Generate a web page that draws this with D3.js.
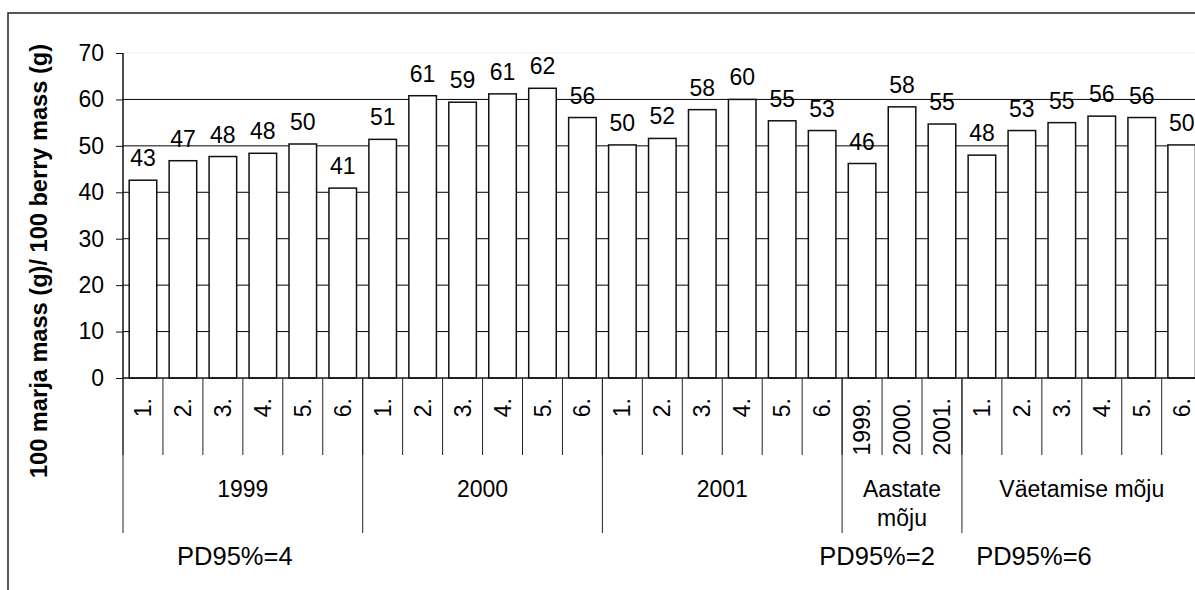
<!DOCTYPE html>
<html>
<head>
<meta charset="utf-8">
<script src="https://cdn.jsdelivr.net/npm/d3@7"></script>
<style>
  body { margin: 0; background: #fff; }
  svg { display: block; font-family: "Liberation Sans", Arial, sans-serif; }
</style>
</head>
<body>
<div id="chart"></div>
<script>
// data
var catLabels = ["1.", "2.", "3.", "4.", "5.", "6.",
                 "1.", "2.", "3.", "4.", "5.", "6.",
                 "1.", "2.", "3.", "4.", "5.", "6.",
                 "1999.", "2000.", "2001.",
                 "1.", "2.", "3.", "4.", "5.", "6."];
var values = [42.6, 46.8, 47.7, 48.4, 50.4, 40.9,
              51.4, 60.8, 59.4, 61.2, 62.4, 56.1,
              50.2, 51.6, 57.8, 60.0, 55.4, 53.3,
              46.2, 58.4, 54.7,
              48.0, 53.3, 55.0, 56.4, 56.1, 50.2];
var groupNames = [["1999"], ["2000"], ["2001"], ["Aastate", "mõju"], ["Väetamise mõju"]];
var groupSizes = [6, 6, 6, 3, 6];
var yTicks = [0, 10, 20, 30, 40, 50, 60, 70];
var pdLabels = ["PD95%=4", "PD95%=2", "PD95%=6"];
var yTitle = "100 marja mass (g)/ 100 berry mass (g)";

var W = 1195, H = 590;
var fs = 23;
var svg = d3.select('#chart').append('svg')
  .attr('width', W)
  .attr('height', H);

// outer chart border (runs off the right and bottom)
svg.append('rect')
  .attr('x', 8).attr('y', 13)
  .attr('width', 1300).attr('height', 700)
  .attr('fill', '#fff')
  .attr('style', 'stroke: #222; stroke-width: 1.5px');

var left = 123, step = 39.95;
var x = d3.scaleBand()
  .domain(d3.range(values.length))
  .range([left, left + step * values.length])
  .paddingInner(0.31)
  .paddingOuter(0.155);

var y = d3.scaleLinear().domain([0, 70]).range([378, 53]);

// gridlines
svg.append('g').selectAll('line')
  .data(yTicks.filter(function(d) { return d > 0; }))
  .enter().append('line')
  .attr('x1', left).attr('x2', W)
  .attr('y1', function(d) { return y(d); })
  .attr('y2', function(d) { return y(d); })
  .attr('style', function(d) {
    return d === 70 ? 'stroke: #eee; stroke-width: 1px' : 'stroke: #000; stroke-width: 1px';
  });

// bars
svg.append('g').selectAll('rect')
  .data(values).enter().append('rect')
  .attr('x', function(d, i) { return x(i); })
  .attr('y', function(d) { return y(d); })
  .attr('width', x.bandwidth())
  .attr('height', function(d) { return y(0) - y(d); })
  .attr('fill', '#fff')
  .attr('style', 'stroke: #111; stroke-width: 1.5px');

// value labels
svg.append('g').selectAll('text')
  .data(values).enter().append('text')
  .attr('x', function(d, i) { return x(i) + x.bandwidth() / 2; })
  .attr('y', function(d) { return y(d) - 14; })
  .attr('text-anchor', 'middle')
  .attr('font-size', fs)
  .text(function(d) { return d3.format('.0f')(d); });

// y axis
var yAxis = svg.append('g')
  .attr('transform', 'translate(' + left + ',0)')
  .call(d3.axisLeft(y).tickValues(yTicks).tickSize(7).tickPadding(12));
yAxis.select('.domain').attr('stroke', '#111').attr('stroke-width', 1.5)
  .attr('d', 'M0,' + y(70) + 'V' + y(0));
yAxis.selectAll('.tick line').attr('stroke', '#111');
yAxis.selectAll('.tick text').attr('font-size', fs).attr('fill', '#000')
  .attr('font-family', '"Liberation Sans", Arial, sans-serif');

svg.append('text')
  .attr('transform', 'translate(47,261) rotate(-90)')
  .attr('text-anchor', 'middle')
  .attr('font-size', 23.6)
  .attr('font-weight', 'bold')
  .text(yTitle);

// x axis line
svg.append('line')
  .attr('x1', left).attr('x2', W)
  .attr('y1', y(0)).attr('y2', y(0))
  .attr('style', 'stroke: #111; stroke-width: 1.5px');

// category ticks
var bounds = d3.range(values.length + 1).map(function(i) { return left + i * step; });
svg.append('g').selectAll('line')
  .data(bounds).enter().append('line')
  .attr('x1', function(d) { return d; })
  .attr('x2', function(d) { return d; })
  .attr('y1', y(0)).attr('y2', 455)
  .attr('style', 'stroke: #222; stroke-width: 1px');

// category labels, rotated
svg.append('g').selectAll('text')
  .data(catLabels).enter().append('text')
  .attr('transform', function(d, i) {
    return 'translate(' + (x(i) + x.bandwidth() / 2) + ',398) rotate(-90)';
  })
  .attr('text-anchor', 'end')
  .attr('dy', '0.35em')
  .attr('font-size', fs)
  .text(function(d) { return d; });

// group separators and names
var starts = [0];
groupSizes.forEach(function(n, i) { starts.push(starts[i] + n); });
svg.append('g').selectAll('line')
  .data(starts).enter().append('line')
  .attr('x1', function(d) { return left + d * step; })
  .attr('x2', function(d) { return left + d * step; })
  .attr('y1', y(0)).attr('y2', 533)
  .attr('style', 'stroke: #222; stroke-width: 1px');

groupNames.forEach(function(lines, gi) {
  var cx = left + (starts[gi] + groupSizes[gi] / 2) * step;
  var t = svg.append('text')
    .attr('text-anchor', 'middle')
    .attr('font-size', fs);
  lines.forEach(function(s, li) {
    t.append('tspan')
      .attr('x', cx)
      .attr('y', 497 + li * 29)
      .text(s);
  });
});

// PD95% notes under the groups
var pdX = [left + 3 * step - 8, left + 18 * step + 35, left + 21 * step + 72];
svg.append('g').selectAll('text')
  .data(pdLabels).enter().append('text')
  .attr('x', function(d, i) { return pdX[i]; })
  .attr('y', 565)
  .attr('text-anchor', 'middle')
  .attr('font-size', 25.5)
  .text(function(d) { return d; });
</script>
</body>
</html>
